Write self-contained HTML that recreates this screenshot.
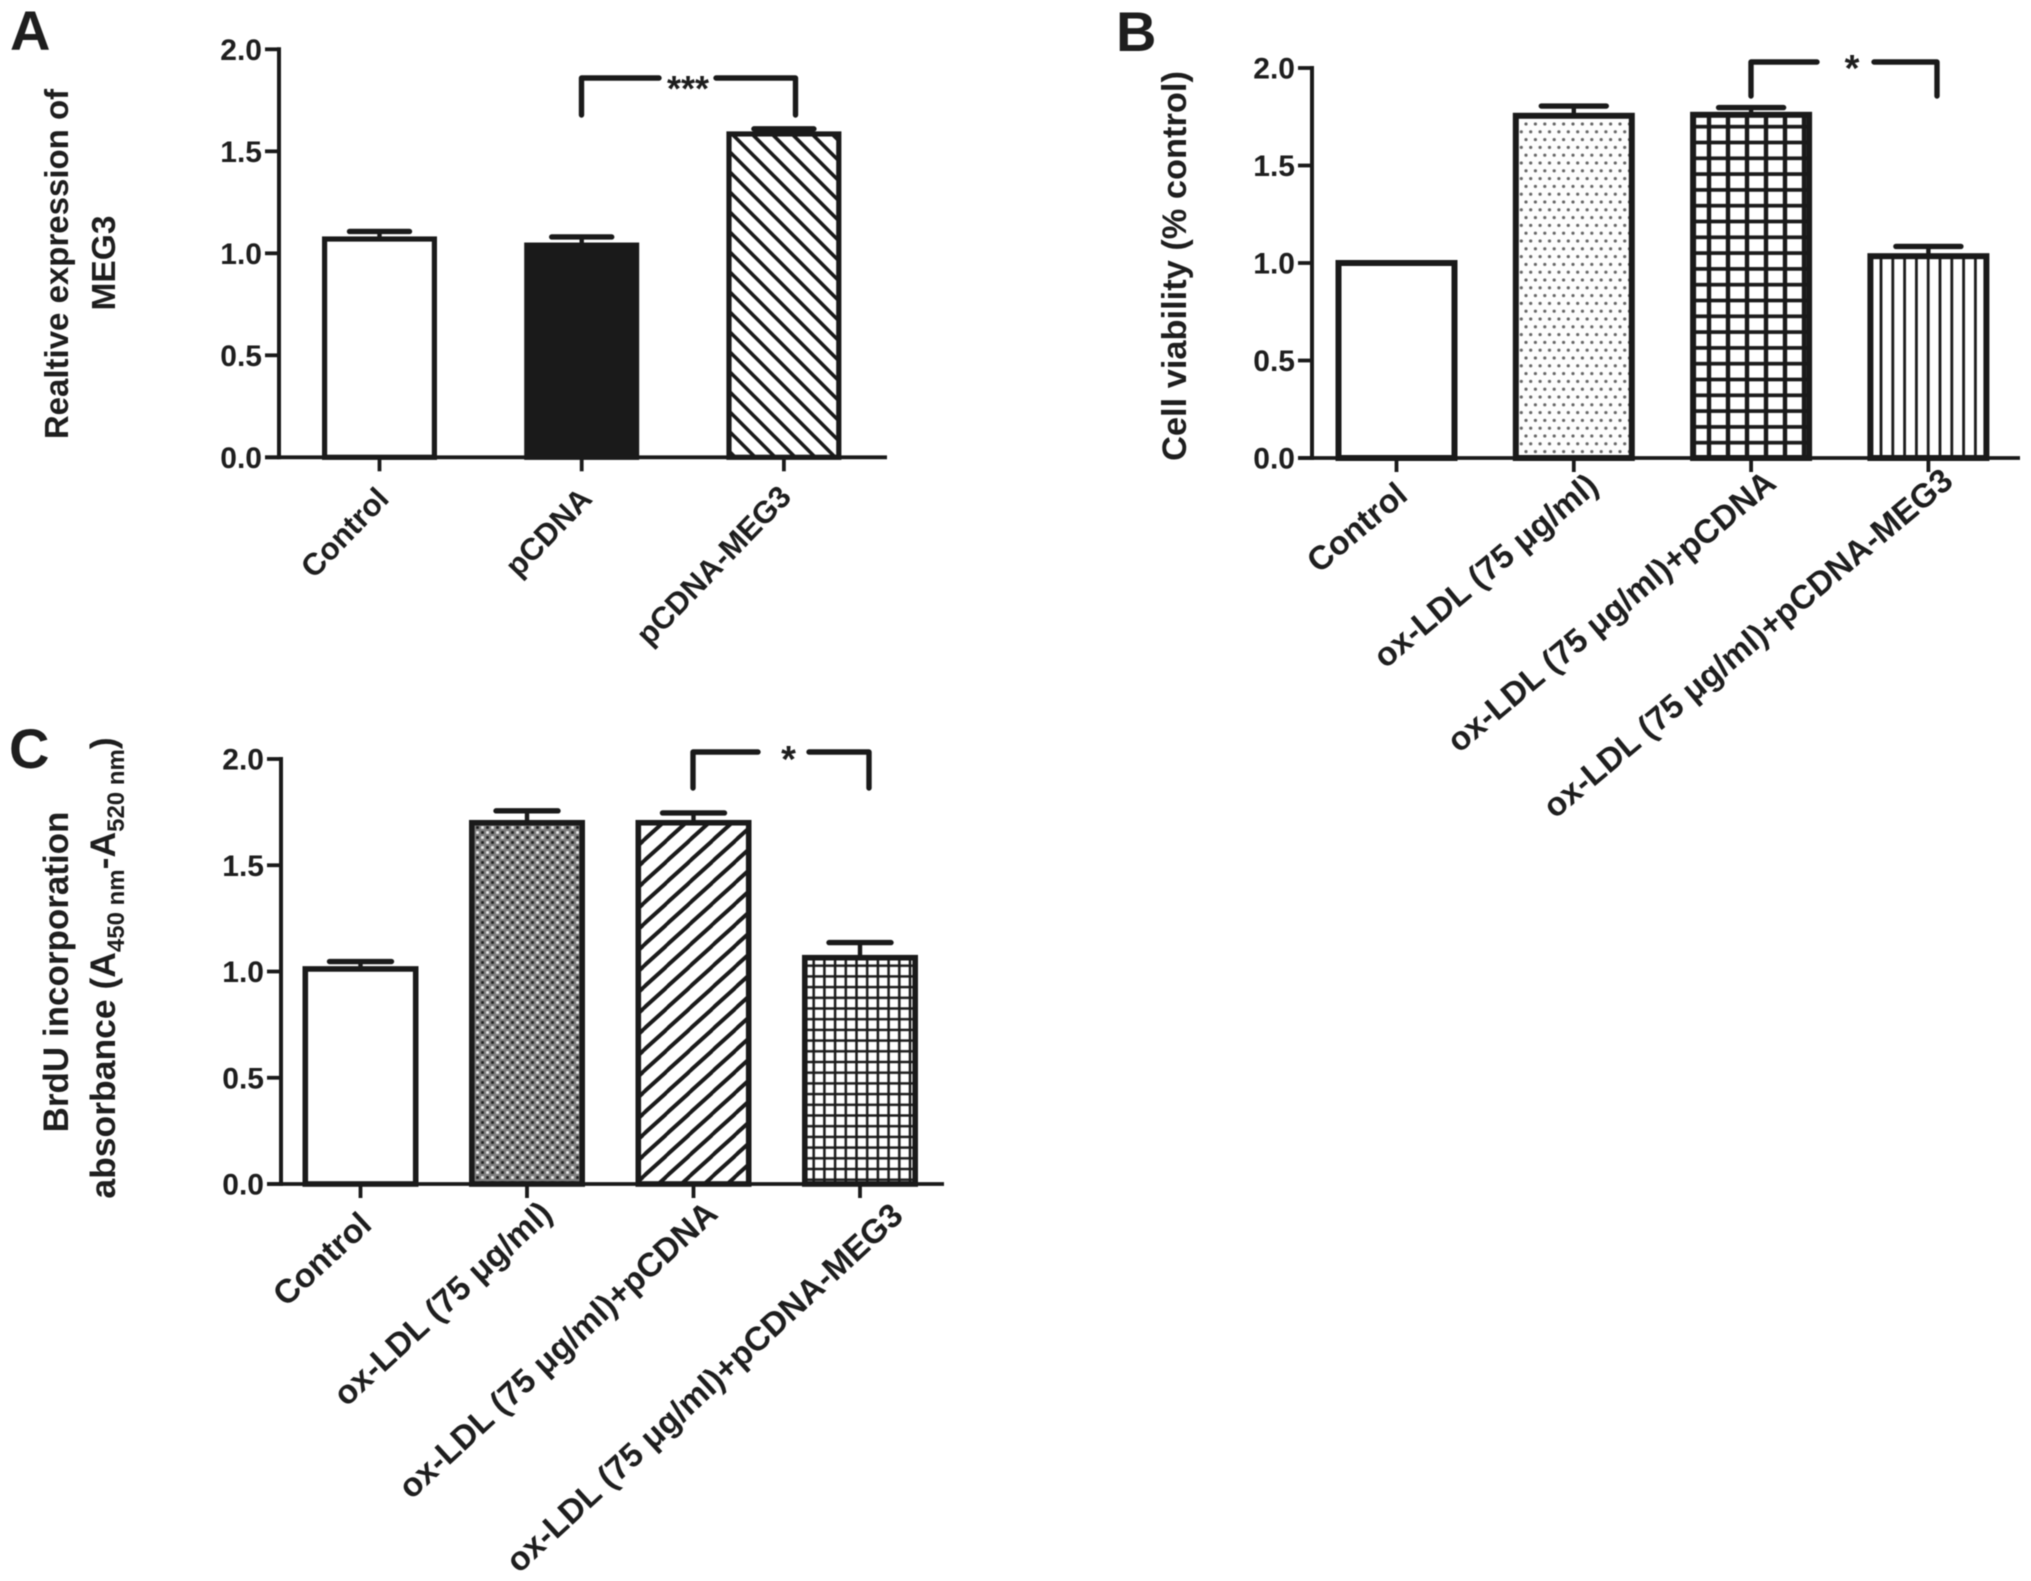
<!DOCTYPE html>
<html lang="en">
<head>
<meta charset="utf-8">
<title>MEG3 bar charts</title>
<style>
html,body{margin:0;padding:0;background:#fff;}
body{width:2031px;height:1581px;overflow:hidden;}
svg{display:block;filter:blur(.55px);}
text{font-family:"Liberation Sans",Arial,sans-serif;font-weight:bold;fill:#1e1e1e;}
</style>
</head>
<body>
<svg id="figure" xmlns="http://www.w3.org/2000/svg" width="2031" height="1581" viewBox="0 0 2031 1581">
  <rect x="0" y="0" width="2031" height="1581" fill="#fff"/>
  <defs>
    <pattern id="hatch-back" patternUnits="userSpaceOnUse" x="755" y="137" width="20" height="20">
      <rect width="20" height="20" fill="#fff"/>
      <path d="M-5,-5 L25,25 M-5,15 L5,25 M15,-5 L25,5" stroke="#1a1a1a" stroke-width="3.6"/>
    </pattern>
    <pattern id="hatch-forward" patternUnits="userSpaceOnUse" width="23" height="21">
      <rect width="23" height="21" fill="#fff"/>
      <path d="M-5.48,25.76 L28.48,-4.76 M-5.48,4.76 L5.48,-5 M17.5,26 L28.48,16.24" stroke="#1a1a1a" stroke-width="4"/>
    </pattern>
    <pattern id="dots-light" patternUnits="userSpaceOnUse" x="1526" y="124" width="9.4" height="15.6">
      <rect width="9.4" height="15.6" fill="#fdfdfd"/>
      <circle cx="0" cy="0" r="1.6" fill="#666"/>
      <circle cx="9.4" cy="0" r="1.6" fill="#666"/>
      <circle cx="0" cy="15.6" r="1.6" fill="#666"/>
      <circle cx="9.4" cy="15.6" r="1.6" fill="#666"/>
      <circle cx="4.7" cy="7.8" r="1.6" fill="#666"/>
    </pattern>
    <pattern id="dots-dense" patternUnits="userSpaceOnUse" width="10" height="10">
      <rect width="10" height="10" fill="#808080"/>
      <rect x="1.2" y="1.2" width="2.6" height="2.6" fill="#1c1c1c"/>
      <rect x="6.2" y="6.2" width="2.6" height="2.6" fill="#1c1c1c"/>
      <rect x="6.2" y="1.2" width="2.6" height="2.6" fill="#efefef"/>
      <rect x="1.2" y="6.2" width="2.6" height="2.6" fill="#efefef"/>
    </pattern>
    <pattern id="grid-large" patternUnits="userSpaceOnUse" x="1709" y="126.7" width="19" height="15.8">
      <rect width="19" height="15.8" fill="#fff"/>
      <path d="M0,0 V15.8 M19,0 V15.8" stroke="#1a1a1a" stroke-width="4.4"/>
      <path d="M0,0 H19 M0,15.8 H19" stroke="#1a1a1a" stroke-width="3.6"/>
    </pattern>
    <pattern id="vertical-lines" patternUnits="userSpaceOnUse" x="1881" y="0" width="11.8" height="20">
      <rect width="11.8" height="20" fill="#fff"/>
      <path d="M0,0 V20 M11.8,0 V20" stroke="#1a1a1a" stroke-width="2.8"/>
    </pattern>
    <pattern id="grid-small" patternUnits="userSpaceOnUse" x="803" y="955" width="10.7" height="10.7">
      <rect width="10.7" height="10.7" fill="#fff"/>
      <path d="M0,0 V10.7 M10.7,0 V10.7 M0,0 H10.7 M0,10.7 H10.7" stroke="#1a1a1a" stroke-width="2.5"/>
    </pattern>
  </defs>
  <text x="10" y="50" font-size="56">A</text>
  <text x="1116" y="51" font-size="56">B</text>
  <text x="9" y="768" font-size="56">C</text>

  <text transform="translate(68,264) rotate(-90)" text-anchor="middle" font-size="33">Realtive expression of</text>
  <text transform="translate(115,263) rotate(-90)" text-anchor="middle" font-size="33.5">MEG3</text>
  <text transform="translate(1186,266) rotate(-90)" text-anchor="middle" font-size="34.4">Cell viability (% control)</text>
  <text transform="translate(68,972) rotate(-90)" text-anchor="middle" font-size="35">BrdU incorporation</text>
  <text transform="translate(115,968) rotate(-90)" text-anchor="middle" font-size="35.5">absorbance (A<tspan font-size="24" dy="9">450 nm</tspan><tspan dy="-9">-A</tspan><tspan font-size="24" dy="9">520 nm</tspan><tspan dy="-9">)</tspan></text>
</svg>
<script>
const yTickValues = [0, 0.5, 1, 1.5, 2];
const yTickLabels = ['0.0', '0.5', '1.0', '1.5', '2.0'];

const panelACategories = ['Control', 'pCDNA', 'pCDNA-MEG3'];
const panelAValues = [1.07, 1.04, 1.585];
const panelAErrors = [0.037, 0.04, 0.025];
const panelAFills = ['#fff', '#1a1a1a', 'url(#hatch-back)'];

const panelBCategories = ['Control', 'ox-LDL (75 μg/ml)', 'ox-LDL (75 μg/ml)+pCDNA', 'ox-LDL (75 μg/ml)+pCDNA-MEG3'];
const panelBValues = [1.0, 1.755, 1.76, 1.035];
const panelBErrors = [0, 0.05, 0.037, 0.05];
const panelBFills = ['#fff', 'url(#dots-light)', 'url(#grid-large)', 'url(#vertical-lines)'];

const panelCCategories = ['Control', 'ox-LDL (75 μg/ml)', 'ox-LDL (75 μg/ml)+pCDNA', 'ox-LDL (75 μg/ml)+pCDNA-MEG3'];
const panelCValues = [1.012, 1.7, 1.7, 1.065];
const panelCErrors = [0.035, 0.056, 0.046, 0.071];
const panelCFills = ['#fff', 'url(#dots-dense)', 'url(#hatch-forward)', 'url(#grid-small)'];

const SVG_NS = 'http://www.w3.org/2000/svg';
const INK = '#1a1a1a';
const figure = document.getElementById('figure');

function make(tag, attrs, text) {
  const el = document.createElementNS(SVG_NS, tag);
  for (const key in attrs) el.setAttribute(key, attrs[key]);
  if (text !== undefined) el.textContent = text;
  figure.appendChild(el);
  return el;
}

function drawPanel(p, categories, values, errors, fills) {
  const yScale = v => p.y0 + (p.y2 - p.y0) * v / 2;
  const xScale = i => p.firstX + p.stepX * i;

  yTickValues.forEach((v, i) => {
    const tick = make('line', {x1: p.axisX - 14, x2: p.axisX, y1: yScale(v), y2: yScale(v), stroke: INK, 'stroke-width': 3.8});
    
    
    const label = make('text', {x: p.axisX - 17, y: yScale(v) + 10.5, 'text-anchor': 'end', 'font-size': 30}, yTickLabels[i]);
    
    
  });

  categories.forEach((c, i) => {
    const cx = xScale(i);
    const tick = make('line', {x1: cx, x2: cx, y1: p.y0, y2: p.y0 + 14, stroke: INK, 'stroke-width': 3.8});
    
    

    const sw = p.barStroke;
    const bar = make('rect', {
      x: cx - p.barWidth / 2 + sw / 2,
      y: yScale(values[i]),
      width: p.barWidth - sw,
      height: p.y0 - yScale(values[i]),
      fill: fills[i],
      stroke: INK,
      'stroke-width': sw
    });
    
    

    if (errors[i] > 0) {
      const stem = make('line', {x1: cx, x2: cx, y1: yScale(values[i]), y2: yScale(values[i] + errors[i]), stroke: INK, 'stroke-width': 4.4});
      
      
      const cap = make('line', {
        x1: cx - p.capWidth / 2, x2: cx + p.capWidth / 2,
        y1: yScale(values[i] + errors[i]), y2: yScale(values[i] + errors[i]),
        stroke: INK, 'stroke-width': 5.4, 'stroke-linecap': 'round'
      });
      
      
    }

    const lx = cx + p.labelDx + p.labelNudgeX[i];
    const ly = p.y0 + p.labelDy + p.labelNudgeY[i];
    const label = make('text', {
      transform: 'translate(' + lx + ',' + ly + ') rotate(' + (-p.labelAngle) + ')',
      'text-anchor': 'end',
      'font-size': p.labelSize
    }, c);
    
    
  });

  const yAxis = make('line', {x1: p.axisX, x2: p.axisX, y1: p.y2 - 2, y2: p.y0 + 2, stroke: INK, 'stroke-width': 4});
  
  
  const xAxis = make('line', {x1: p.axisX - 14, x2: p.axisEnd, y1: p.y0, y2: p.y0, stroke: INK, 'stroke-width': 3.8});
  
  

  const b = p.bracket;
  const leftArm = make('path', {d: 'M' + b.x1 + ',' + b.bottom + ' V' + b.top + ' H' + b.gapLeft, fill: 'none', stroke: INK, 'stroke-width': 5.4, 'stroke-linecap': 'round', 'stroke-linejoin': 'round'});
  
  
  const rightArm = make('path', {d: 'M' + b.gapRight + ',' + b.top + ' H' + b.x2 + ' V' + b.bottom, fill: 'none', stroke: INK, 'stroke-width': 5.4, 'stroke-linecap': 'round', 'stroke-linejoin': 'round'});
  
  
  const stars = make('text', {x: b.starX, y: b.starY, 'text-anchor': 'middle', 'font-size': b.starSize}, b.stars);
  
  
}

drawPanel({
  axisX: 279, axisEnd: 887, y0: 457.3, y2: 49.3,
  firstX: 379.5, stepX: 202.2, barWidth: 115, barStroke: 5.2, capWidth: 60,
  labelDx: 16, labelDy: 44, labelAngle: 46, labelSize: 31,
  labelNudgeX: [-5, -4, -7], labelNudgeY: [-1, -1, -3],
  bracket: {x1: 581.5, x2: 795.5, top: 78, bottom: 115, gapLeft: 659, gapRight: 716, starX: 688, starY: 101, stars: '***', starSize: 36}
}, panelACategories, panelAValues, panelAErrors, panelAFills);

drawPanel({
  axisX: 1312, axisEnd: 2020, y0: 458, y2: 68,
  firstX: 1396.5, stepX: 177.3, barWidth: 122, barStroke: 6, capWidth: 65,
  labelDx: 16, labelDy: 40, labelAngle: 40, labelSize: 33.3,
  labelNudgeX: [-3, 10.5, 11, 10.5], labelNudgeY: [0, -9, -12, -14],
  bracket: {x1: 1751, x2: 1937, top: 62, bottom: 96, gapLeft: 1817, gapRight: 1874, starX: 1852, starY: 81, stars: '*', starSize: 38}
}, panelBCategories, panelBValues, panelBErrors, panelBFills);

drawPanel({
  axisX: 281, axisEnd: 944, y0: 1184, y2: 759,
  firstX: 360.5, stepX: 166.5, barWidth: 116, barStroke: 5.6, capWidth: 62,
  labelDx: 16, labelDy: 40, labelAngle: 42.7, labelSize: 33.5,
  labelNudgeX: [-3, 11, 10, 29], labelNudgeY: [3, -8, -8, -6],
  bracket: {x1: 693, x2: 869, top: 752, bottom: 788, gapLeft: 758, gapRight: 809, starX: 788.5, starY: 772, stars: '*', starSize: 38}
}, panelCCategories, panelCValues, panelCErrors, panelCFills);
</script>
</body>
</html>
